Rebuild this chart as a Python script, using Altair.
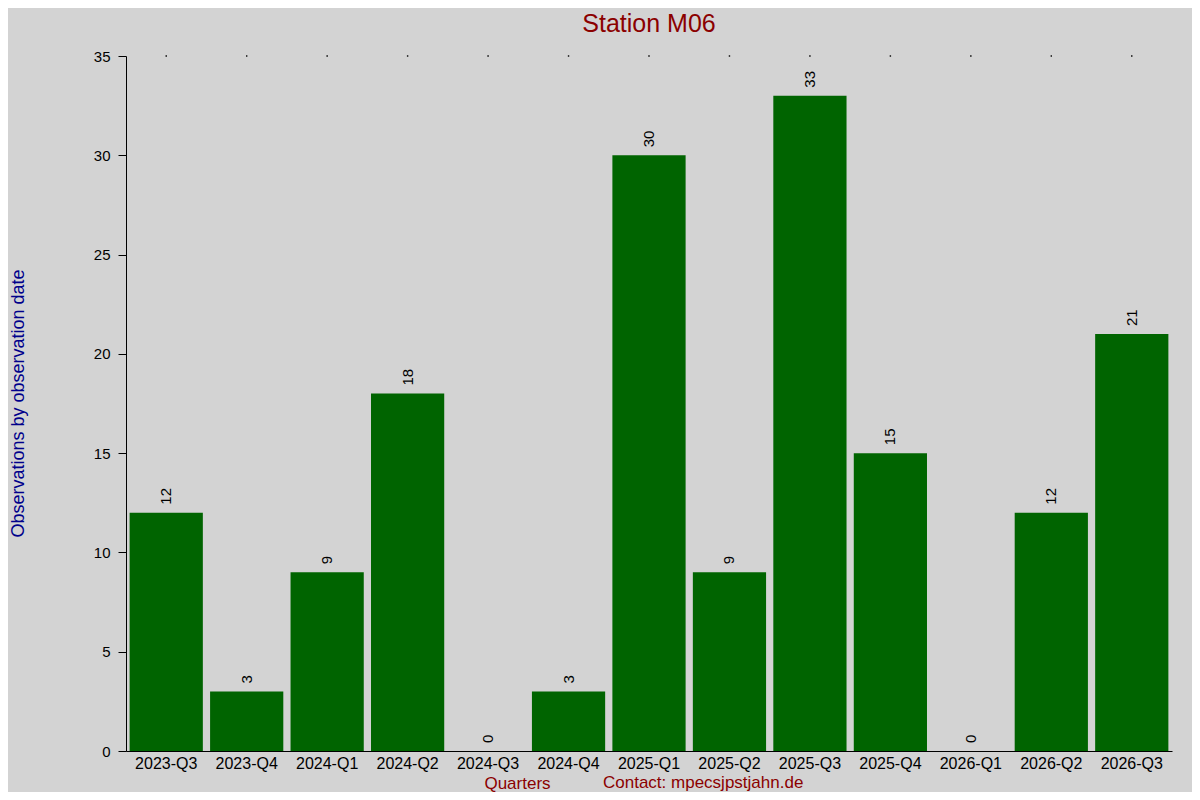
import altair as alt
import pandas as pd

quarters = ["2023-Q3", "2023-Q4", "2024-Q1", "2024-Q2", "2024-Q3", "2024-Q4",
            "2025-Q1", "2025-Q2", "2025-Q3", "2025-Q4", "2026-Q1", "2026-Q2", "2026-Q3"]
counts = [12, 3, 9, 18, 0, 3, 30, 9, 33, 15, 0, 12, 21]
y_ticks = [0, 5, 10, 15, 20, 25, 30, 35]
title_text = "Station M06"
x_title = "Quarters"
y_title = "Observations by observation date"
contact = "Contact: mpecsjpstjahn.de"

df = pd.DataFrame({"quarter": quarters, "count": counts})
FONT = "Liberation Sans"

x_enc = alt.X(
    "quarter:N", sort=quarters,
    scale=alt.Scale(paddingInner=0.09, paddingOuter=0.045),
    axis=alt.Axis(
        title=x_title, titleColor="#8b0000", titleFontSize=17, titleFontWeight="normal",
        titleFont=FONT, titleX=391, titleY=32, titleAlign="center", titleBaseline="middle",
        labelAngle=0, labelFontSize=16, labelFont=FONT, labelColor="black",
        ticks=False, labelPadding=4, domainColor="black", domainWidth=1,
    ),
)
y_enc = alt.Y(
    "count:Q",
    scale=alt.Scale(domain=[0, 35], nice=False),
    axis=alt.Axis(
        values=y_ticks, tickSize=8, labelPadding=8, labelFontSize=15, labelFont=FONT,
        labelColor="black", grid=False, domainColor="black", tickColor="black",
        title=y_title, titleColor="#00008b", titleFontSize=18, titleFontWeight="normal",
        titleFont=FONT, titleX=-108, titleY=347, titleAngle=-90, titleAlign="center",
        titleBaseline="middle",
    ),
)

base = alt.Chart(df)
bars = base.mark_bar(color="#006400").encode(x=x_enc, y=y_enc)
labels = base.mark_text(angle=270, align="left", baseline="middle", dx=8,
                        fontSize=15, font=FONT, color="black").encode(
    x=alt.X("quarter:N", sort=quarters), y="count:Q", text="count:Q")
dots = base.mark_square(size=2, color="black", opacity=1).encode(
    x=alt.X("quarter:N", sort=quarters), y=alt.value(0))
contact_txt = alt.Chart(pd.DataFrame({"t": [contact]})).mark_text(
    align="left", baseline="middle", fontSize=17, font=FONT, color="#8b0000").encode(
    text="t:N", x=alt.value(477), y=alt.value(727))

chart = alt.layer(bars, labels, dots, contact_txt).properties(
    width=1046, height=695,
    title=alt.TitleParams(title_text, color="#8b0000", fontSize=25, font=FONT,
                          fontWeight="normal", anchor="middle", offset=12),
    background="#d3d3d3",
    padding={"left": 118, "top": 48, "right": 20, "bottom": 41},
    autosize=alt.AutoSizeParams(type="none"),
).configure_view(stroke=None)

chart.save("out.html", embed_options={"renderer": "svg", "actions": False})
